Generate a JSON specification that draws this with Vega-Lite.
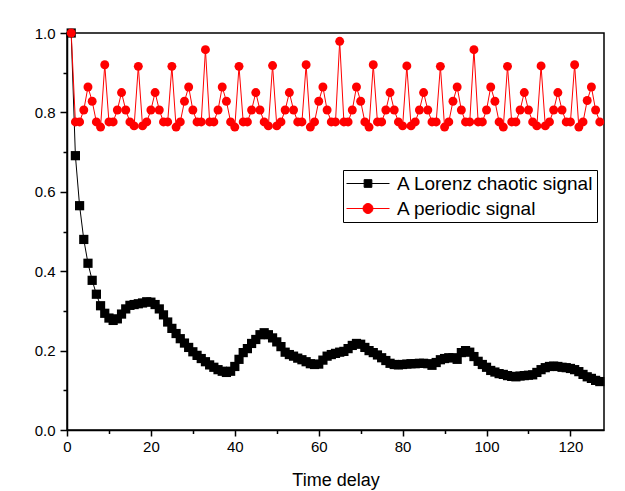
{
  "$schema": "https://vega.github.io/schema/vega-lite/v6.json",
  "width": 537,
  "height": 397,
  "autosize": "none",
  "padding": {"left": 67, "top": 33, "right": 21, "bottom": 61},
  "background": "white",
  "config": {
    "font": "Liberation Sans",
    "view": {"stroke": "black", "strokeWidth": 1.5},
    "axis": {"grid": false, "labelFont": "Liberation Sans", "labelFontSize": 15, "labelColor": "black", "tickColor": "black", "domainColor": "black", "domainWidth": 1.5, "tickWidth": 1.5, "titleFont": "Liberation Sans", "titleColor": "black", "titleFontWeight": "normal"}
  },
  "data": {"values": [
    {"t":1,"lorenz":1.0,"periodic":1.0},{"t":2,"lorenz":0.691,"periodic":0.776},{"t":3,"lorenz":0.565,"periodic":0.776},{"t":4,"lorenz":0.48,"periodic":0.806},{"t":5,"lorenz":0.42,"periodic":0.864},{"t":6,"lorenz":0.377,"periodic":0.828},{"t":7,"lorenz":0.342,"periodic":0.776},{"t":8,"lorenz":0.313,"periodic":0.763},{"t":9,"lorenz":0.294,"periodic":0.92},{"t":10,"lorenz":0.282,"periodic":0.776},
    {"t":11,"lorenz":0.276,"periodic":0.776},{"t":12,"lorenz":0.28,"periodic":0.806},{"t":13,"lorenz":0.292,"periodic":0.85},{"t":14,"lorenz":0.305,"periodic":0.806},{"t":15,"lorenz":0.314,"periodic":0.776},{"t":16,"lorenz":0.316,"periodic":0.766},{"t":17,"lorenz":0.318,"periodic":0.916},{"t":18,"lorenz":0.32,"periodic":0.766},{"t":19,"lorenz":0.323,"periodic":0.776},{"t":20,"lorenz":0.322,"periodic":0.806},
    {"t":21,"lorenz":0.316,"periodic":0.85},{"t":22,"lorenz":0.305,"periodic":0.806},{"t":23,"lorenz":0.29,"periodic":0.776},{"t":24,"lorenz":0.272,"periodic":0.776},{"t":25,"lorenz":0.256,"periodic":0.916},{"t":26,"lorenz":0.243,"periodic":0.763},{"t":27,"lorenz":0.23,"periodic":0.776},{"t":28,"lorenz":0.219,"periodic":0.828},{"t":29,"lorenz":0.208,"periodic":0.864},{"t":30,"lorenz":0.197,"periodic":0.806},
    {"t":31,"lorenz":0.188,"periodic":0.776},{"t":32,"lorenz":0.18,"periodic":0.776},{"t":33,"lorenz":0.172,"periodic":0.958},{"t":34,"lorenz":0.164,"periodic":0.776},{"t":35,"lorenz":0.158,"periodic":0.776},{"t":36,"lorenz":0.152,"periodic":0.806},{"t":37,"lorenz":0.148,"periodic":0.864},{"t":38,"lorenz":0.145,"periodic":0.828},{"t":39,"lorenz":0.148,"periodic":0.776},{"t":40,"lorenz":0.16,"periodic":0.763},
    {"t":41,"lorenz":0.178,"periodic":0.916},{"t":42,"lorenz":0.195,"periodic":0.776},{"t":43,"lorenz":0.205,"periodic":0.776},{"t":44,"lorenz":0.218,"periodic":0.806},{"t":45,"lorenz":0.228,"periodic":0.85},{"t":46,"lorenz":0.24,"periodic":0.806},{"t":47,"lorenz":0.245,"periodic":0.776},{"t":48,"lorenz":0.24,"periodic":0.766},{"t":49,"lorenz":0.232,"periodic":0.918},{"t":50,"lorenz":0.222,"periodic":0.766},
    {"t":51,"lorenz":0.21,"periodic":0.776},{"t":52,"lorenz":0.196,"periodic":0.806},{"t":53,"lorenz":0.19,"periodic":0.85},{"t":54,"lorenz":0.186,"periodic":0.806},{"t":55,"lorenz":0.181,"periodic":0.776},{"t":56,"lorenz":0.177,"periodic":0.776},{"t":57,"lorenz":0.172,"periodic":0.92},{"t":58,"lorenz":0.167,"periodic":0.763},{"t":59,"lorenz":0.165,"periodic":0.776},{"t":60,"lorenz":0.166,"periodic":0.828},
    {"t":61,"lorenz":0.176,"periodic":0.864},{"t":62,"lorenz":0.186,"periodic":0.806},{"t":63,"lorenz":0.19,"periodic":0.776},{"t":64,"lorenz":0.193,"periodic":0.776},{"t":65,"lorenz":0.196,"periodic":0.979},{"t":66,"lorenz":0.198,"periodic":0.776},{"t":67,"lorenz":0.205,"periodic":0.776},{"t":68,"lorenz":0.213,"periodic":0.806},{"t":69,"lorenz":0.218,"periodic":0.864},{"t":70,"lorenz":0.216,"periodic":0.828},
    {"t":71,"lorenz":0.208,"periodic":0.776},{"t":72,"lorenz":0.2,"periodic":0.763},{"t":73,"lorenz":0.195,"periodic":0.92},{"t":74,"lorenz":0.189,"periodic":0.776},{"t":75,"lorenz":0.182,"periodic":0.776},{"t":76,"lorenz":0.175,"periodic":0.806},{"t":77,"lorenz":0.168,"periodic":0.85},{"t":78,"lorenz":0.165,"periodic":0.806},{"t":79,"lorenz":0.164,"periodic":0.776},{"t":80,"lorenz":0.165,"periodic":0.766},
    {"t":81,"lorenz":0.166,"periodic":0.917},{"t":82,"lorenz":0.167,"periodic":0.766},{"t":83,"lorenz":0.167,"periodic":0.776},{"t":84,"lorenz":0.168,"periodic":0.806},{"t":85,"lorenz":0.168,"periodic":0.85},{"t":86,"lorenz":0.167,"periodic":0.806},{"t":87,"lorenz":0.163,"periodic":0.776},{"t":88,"lorenz":0.17,"periodic":0.776},{"t":89,"lorenz":0.177,"periodic":0.916},{"t":90,"lorenz":0.18,"periodic":0.763},
    {"t":91,"lorenz":0.182,"periodic":0.776},{"t":92,"lorenz":0.182,"periodic":0.828},{"t":93,"lorenz":0.178,"periodic":0.864},{"t":94,"lorenz":0.195,"periodic":0.806},{"t":95,"lorenz":0.2,"periodic":0.776},{"t":96,"lorenz":0.196,"periodic":0.776},{"t":97,"lorenz":0.185,"periodic":0.958},{"t":98,"lorenz":0.173,"periodic":0.776},{"t":99,"lorenz":0.165,"periodic":0.776},{"t":100,"lorenz":0.158,"periodic":0.806},
    {"t":101,"lorenz":0.15,"periodic":0.864},{"t":102,"lorenz":0.146,"periodic":0.828},{"t":103,"lorenz":0.142,"periodic":0.776},{"t":104,"lorenz":0.14,"periodic":0.763},{"t":105,"lorenz":0.137,"periodic":0.916},{"t":106,"lorenz":0.135,"periodic":0.776},{"t":107,"lorenz":0.134,"periodic":0.776},{"t":108,"lorenz":0.136,"periodic":0.806},{"t":109,"lorenz":0.137,"periodic":0.85},{"t":110,"lorenz":0.138,"periodic":0.806},
    {"t":111,"lorenz":0.139,"periodic":0.776},{"t":112,"lorenz":0.145,"periodic":0.766},{"t":113,"lorenz":0.152,"periodic":0.917},{"t":114,"lorenz":0.157,"periodic":0.766},{"t":115,"lorenz":0.16,"periodic":0.776},{"t":116,"lorenz":0.161,"periodic":0.806},{"t":117,"lorenz":0.16,"periodic":0.85},{"t":118,"lorenz":0.158,"periodic":0.806},{"t":119,"lorenz":0.157,"periodic":0.776},{"t":120,"lorenz":0.155,"periodic":0.776},
    {"t":121,"lorenz":0.152,"periodic":0.92},{"t":122,"lorenz":0.147,"periodic":0.763},{"t":123,"lorenz":0.14,"periodic":0.776},{"t":124,"lorenz":0.134,"periodic":0.83},{"t":125,"lorenz":0.13,"periodic":0.864},{"t":126,"lorenz":0.125,"periodic":0.806},{"t":127,"lorenz":0.122,"periodic":0.776}
  ]},
  "transform": [
    {"fold": ["lorenz", "periodic"], "as": ["key", "v"]},
    {"lookup": "key", "from": {"data": {"values": [{"key": "lorenz", "s": "A Lorenz chaotic signal"}, {"key": "periodic", "s": "A periodic signal"}]}, "key": "key", "fields": ["s"]}}
  ],
  "layer": [
    {
      "mark": {"type": "line", "strokeWidth": 1, "clip": true},
      "encoding": {
        "x": {"field": "t", "type": "quantitative", "scale": {"domain": [0, 128], "nice": false, "zero": false},
              "axis": {"orient": "bottom", "values": [0, 20, 40, 60, 80, 100, 120], "title": "Time delay", "titleFontSize": 18, "titlePadding": 17, "tickSize": 6, "labelPadding": 3, "labelFlush": false}},
        "y": {"field": "v", "type": "quantitative", "scale": {"domain": [0, 1], "nice": false},
              "axis": {"orient": "left", "values": [0, 0.2, 0.4, 0.6, 0.8, 1.0], "format": ".1f", "title": null, "tickSize": 7, "labelPadding": 5, "labelFlush": false}},
        "color": {"field": "s", "type": "nominal", "scale": {"domain": ["A Lorenz chaotic signal", "A periodic signal"], "range": ["#000000", "#ff0000"]}, "legend": null},
        "detail": {"field": "s"}
      }
    },
    {
      "mark": {"type": "point", "filled": true, "opacity": 1, "strokeWidth": 0},
      "encoding": {
        "x": {"field": "t", "type": "quantitative",
              "axis": {"orient": "bottom", "values": [10, 30, 50, 70, 90, 110], "labels": false, "domain": false, "title": null, "tickSize": 3.5}},
        "y": {"field": "v", "type": "quantitative",
              "axis": {"orient": "left", "values": [0.1, 0.3, 0.5, 0.7, 0.9], "labels": false, "domain": false, "title": null, "tickSize": 4}},
        "order": {"field": "key", "sort": "ascending"},
        "color": {"field": "s", "type": "nominal", "scale": {"domain": ["A Lorenz chaotic signal", "A periodic signal"], "range": ["#000000", "#ff0000"]},
                  "legend": {"title": null, "orient": "none", "legendX": 276, "legendY": 137, "strokeColor": "black", "padding": 3, "labelFontSize": 19, "labelColor": "black", "labelFont": "Liberation Sans", "labelLimit": 0, "symbolSize": 400, "rowPadding": 4, "labelOffset": 30, "symbolStrokeWidth": 1, "symbolOpacity": 1,
                    "encode": {"symbols": {"update": {
                      "shape": {"signal": "datum.value === 'A Lorenz chaotic signal' ? 'M-1,0H3.3M0.765,-0.385H1.535V0.385H0.765Z' : 'M-1,0H3.3M1.65,0A0.5,0.5,0,1,1,0.65,0A0.5,0.5,0,1,1,1.65,0'"},
                      "fill": {"signal": "datum.value === 'A Lorenz chaotic signal' ? 'black' : 'red'"},
                      "stroke": {"signal": "datum.value === 'A Lorenz chaotic signal' ? 'black' : 'red'"}
                    }}}}},
        "shape": {"field": "s", "type": "nominal", "scale": {"domain": ["A Lorenz chaotic signal", "A periodic signal"], "range": ["square", "circle"]}, "legend": null},
        "size": {"field": "s", "type": "nominal", "scale": {"domain": ["A Lorenz chaotic signal", "A periodic signal"], "range": [85, 80]}, "legend": null}
      }
    }
  ],
  "resolve": {"axis": {"x": "independent", "y": "independent"}, "legend": {"color": "independent"}}
}
